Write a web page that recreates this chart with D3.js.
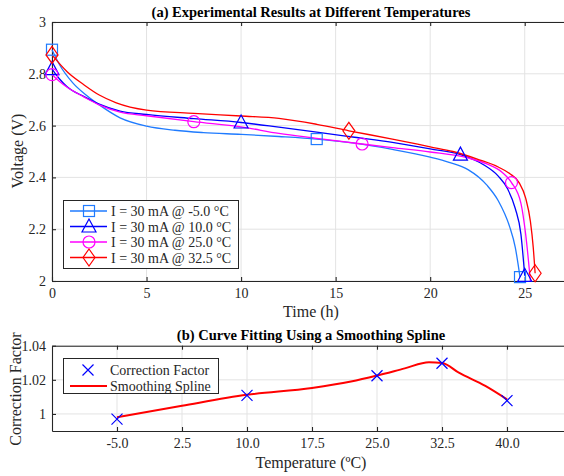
<!DOCTYPE html>
<html>
<head>
<meta charset="utf-8">
<script src="https://cdn.jsdelivr.net/npm/d3@7"></script>
<style>
  body { margin: 0; background: #fff; }
  svg { display: block; overflow: hidden; }
  text { font-family: "Liberation Serif", "Times New Roman", serif; fill: #262626; }
</style>
</head>
<body>
<script>
// ---- data ----
// (a) discharge curves, time in h and voltage in V
const tM5 = [0, 0.4, 1.1, 1.8, 2.5, 3.6, 5, 6.5, 8, 10, 12, 14, 16, 18, 20, 21, 22, 23, 23.6, 24.2, 24.5, 24.75];
const vM5 = [2.893, 2.835, 2.765, 2.718, 2.68, 2.63, 2.598, 2.582, 2.573, 2.566, 2.558, 2.548, 2.532, 2.508, 2.478, 2.458, 2.43, 2.37, 2.31, 2.21, 2.13, 2.015];
const mkM5 = [0, 11, 21];

const t10 = [0, 0.4, 0.8, 1.7, 2.5, 3.6, 5, 7.5, 10, 12, 14, 16, 18, 20, 21.6, 22.8, 23.6, 24.1, 24.5, 24.8, 25.0];
const v10 = [2.818, 2.78, 2.75, 2.712, 2.683, 2.656, 2.643, 2.627, 2.612, 2.594, 2.575, 2.555, 2.535, 2.51, 2.488, 2.45, 2.405, 2.355, 2.28, 2.18, 2.02];
const mk10 = [0, 8, 14, 20];

const t25 = [0, 0.4, 0.8, 1.7, 2.5, 3.6, 5, 7.5, 10, 12, 14, 16.4, 18, 20, 22, 23, 23.8, 24.3, 24.8, 25.05, 25.3];
const v25 = [2.797, 2.77, 2.748, 2.71, 2.68, 2.652, 2.638, 2.615, 2.595, 2.57, 2.551, 2.529, 2.515, 2.498, 2.475, 2.452, 2.42, 2.38, 2.3, 2.18, 2.0];
const mk25 = [0, 7, 11, 17];

const t325 = [0, 0.8, 1.7, 2.5, 3.4, 5, 7.5, 10, 12, 14, 15.7, 18, 20, 21.2, 22.6, 23.6, 24.2, 24.7, 25.05, 25.3, 25.45, 25.55];
const v325 = [2.873, 2.808, 2.757, 2.718, 2.688, 2.66, 2.647, 2.637, 2.628, 2.605, 2.58, 2.548, 2.518, 2.5, 2.468, 2.44, 2.415, 2.38, 2.32, 2.23, 2.13, 2.03];
const mk325 = [0, 10, 21];

const seriesNames = ['I = 30 mA @ -5.0 °C', 'I = 30 mA @ 10.0 °C', 'I = 30 mA @ 25.0 °C', 'I = 30 mA @ 32.5 °C'];
const timeTicks = [0, 5, 10, 15, 20, 25];
const voltTicks = [2, 2.2, 2.4, 2.6, 2.8, 3];

// (b) correction factor vs temperature
const tempPoints = [-5, 10, 25, 32.5, 40];
const corrPoints = [0.997, 1.0109, 1.0224, 1.0297, 1.0078];
const splineTemp = [-5, 2.5, 10, 17.5, 22, 25, 28.2, 31, 32.5, 34.5, 37.5, 40];
const splineCorr = [0.998, 1.0048, 1.0112, 1.0152, 1.019, 1.0225, 1.0267, 1.0303, 1.0299, 1.024, 1.0164, 1.0085];
const tempTicks = [-5, 2.5, 10, 17.5, 25, 32.5, 40];
const corrTicks = [1, 1.02, 1.04];

// ---- styles ----
const colors = ['#1f7bff', '#0000ff', '#ff00ff', '#ff0000'];
const shapes = ['square', 'triangle', 'circle', 'diamond'];
const axisColor = '#262626';
const gridColor = '#e3e3e3';
const serif = '"Liberation Serif", "Times New Roman", serif';

const w = 564, h = 476;

let svg = d3.select('body').append('svg')
  .attr('width', w)
  .attr('height', h)
  .attr('font-family', serif);

// marker drawing helper
const drawMarker = (g, shape, x, y, color) => {
  let m;
  if (shape === 'square') {
    m = g.append('rect').attr('x', x - 5.5).attr('y', y - 5.5).attr('width', 11).attr('height', 11);
  } else if (shape === 'circle') {
    m = g.append('circle').attr('cx', x).attr('cy', y).attr('r', 6);
  } else if (shape === 'triangle') {
    m = g.append('path').attr('d', `M${x},${y - 7.5}L${x + 7},${y + 5.5}L${x - 7},${y + 5.5}Z`);
  } else if (shape === 'diamond') {
    m = g.append('path').attr('d', `M${x},${y - 8.5}L${x + 6},${y}L${x},${y + 8.5}L${x - 6},${y}Z`);
  } else if (shape === 'x') {
    m = g.append('path').attr('d', `M${x - 5.5},${y - 5.5}L${x + 5.5},${y + 5.5}M${x - 5.5},${y + 5.5}L${x + 5.5},${y - 5.5}`);
  }
  m.attr('fill', 'none').attr('stroke', color).attr('stroke-width', 1.2);
};

// grid + box axes used by both panels
const drawFrame = (g, x, y, xTicks, yTicks, xFmt, yFmt) => {
  let [x0, x1] = x.range();
  let [y0, y1] = y.range();

  g.append('g').selectAll('line').data(xTicks).enter().append('line')
    .attr('x1', d => x(d)).attr('x2', d => x(d))
    .attr('y1', y0).attr('y2', y1)
    .attr('stroke', gridColor).attr('stroke-width', 1);
  g.append('g').selectAll('line').data(yTicks).enter().append('line')
    .attr('x1', x0).attr('x2', x1)
    .attr('y1', d => y(d)).attr('y2', d => y(d))
    .attr('stroke', gridColor).attr('stroke-width', 1);

  let bottom = g.append('g')
    .attr('transform', `translate(0,${y0})`)
    .call(d3.axisBottom(x).tickValues(xTicks).tickFormat(xFmt).tickSizeInner(-4).tickSizeOuter(0).tickPadding(7));
  let top = g.append('g')
    .attr('transform', `translate(0,${y1})`)
    .call(d3.axisTop(x).tickValues(xTicks).tickFormat('').tickSizeInner(-4).tickSizeOuter(0));
  let left = g.append('g')
    .attr('transform', `translate(${x0},0)`)
    .call(d3.axisLeft(y).tickValues(yTicks).tickFormat(yFmt).tickSizeInner(-4).tickSizeOuter(0).tickPadding(6));

  [bottom, top, left].forEach(a => {
    a.attr('font-family', serif).attr('font-size', 14);
    a.selectAll('path, line').attr('stroke', axisColor).attr('stroke-width', 1.1);
    a.selectAll('text').attr('fill', axisColor);
  });
};

// ================= panel (a) =================
let xA = d3.scaleLinear().domain([0, 27.5]).range([52, 572]);
let yA = d3.scaleLinear().domain([2, 3]).range([281, 22]);

let gA = svg.append('g');
drawFrame(gA, xA, yA, timeTicks, voltTicks, d => d, d => d);

let series = [
  { t: tM5, v: vM5, mk: mkM5 },
  { t: t10, v: v10, mk: mk10 },
  { t: t25, v: v25, mk: mk25 },
  { t: t325, v: v325, mk: mk325 }
];

let lineA = d3.line()
  .x(d => xA(d[0]))
  .y(d => yA(d[1]))
  .curve(d3.curveMonotoneX);

series.forEach((s, i) => {
  let pts = s.t.map((t, k) => [t, s.v[k]]);
  gA.append('path')
    .attr('d', lineA(pts))
    .attr('fill', 'none')
    .attr('stroke', colors[i])
    .attr('stroke-width', 1.3);
});
series.forEach((s, i) => {
  s.mk.forEach(k => drawMarker(gA, shapes[i], xA(s.t[k]), yA(s.v[k]), colors[i]));
});

// legend (a)
let legA = gA.append('g');
legA.append('rect')
  .attr('x', 63.5).attr('y', 200.5).attr('width', 175).attr('height', 68)
  .attr('fill', '#fff').attr('stroke', axisColor).attr('stroke-width', 1);
seriesNames.forEach((name, i) => {
  let ly = 211 + i * 15.5;
  legA.append('line')
    .attr('x1', 70).attr('x2', 107).attr('y1', ly).attr('y2', ly)
    .attr('stroke', colors[i]).attr('stroke-width', 1.3);
  drawMarker(legA, shapes[i], 89, ly, colors[i]);
  legA.append('text')
    .attr('x', 111).attr('y', ly + 5)
    .attr('font-size', 14)
    .text(name);
});

// titles and labels (a)
svg.append('text')
  .attr('x', 311).attr('y', 17)
  .attr('text-anchor', 'middle')
  .attr('font-size', 14.5).attr('font-weight', 'bold')
  .style('fill', '#000')
  .text('(a) Experimental Results at Different Temperatures');
svg.append('text')
  .attr('x', 311).attr('y', 317)
  .attr('text-anchor', 'middle')
  .attr('font-size', 16)
  .text('Time (h)');
svg.append('text')
  .attr('transform', 'translate(23,151) rotate(-90)')
  .attr('text-anchor', 'middle')
  .attr('font-size', 16)
  .text('Voltage (V)');

// ================= panel (b) =================
let xB = d3.scaleLinear().domain([-12.5, 47.5]).range([52, 572]);
let yB = d3.scaleLinear().domain([0.99, 1.04]).range([431, 345.7]);

let gB = svg.append('g');
drawFrame(gB, xB, yB, tempTicks, corrTicks, d => d.toFixed(1), d => d);

let lineB = d3.line()
  .x(d => xB(d[0]))
  .y(d => yB(d[1]))
  .curve(d3.curveMonotoneX);

gB.append('path')
  .attr('d', lineB(splineTemp.map((t, k) => [t, splineCorr[k]])))
  .attr('fill', 'none')
  .attr('stroke', '#ff0000')
  .attr('stroke-width', 2);

tempPoints.forEach((t, k) => drawMarker(gB, 'x', xB(t), yB(corrPoints[k]), '#0000ff'));

// legend (b)
let legB = gB.append('g');
legB.append('rect')
  .attr('x', 63.5).attr('y', 358.5).attr('width', 155).attr('height', 35)
  .attr('fill', '#fff').attr('stroke', axisColor).attr('stroke-width', 1);
drawMarker(legB, 'x', 88, 370, '#0000ff');
legB.append('text').attr('x', 110).attr('y', 375).attr('font-size', 14).text('Correction Factor');
legB.append('line')
  .attr('x1', 70).attr('x2', 107).attr('y1', 386).attr('y2', 386)
  .attr('stroke', '#ff0000').attr('stroke-width', 2);
legB.append('text').attr('x', 110).attr('y', 391).attr('font-size', 14).text('Smoothing Spline');

// titles and labels (b)
svg.append('text')
  .attr('x', 311).attr('y', 340)
  .attr('text-anchor', 'middle')
  .attr('font-size', 14.5).attr('font-weight', 'bold')
  .style('fill', '#000')
  .text('(b) Curve Fitting Using a Smoothing Spline');
svg.append('text')
  .attr('x', 311).attr('y', 468)
  .attr('text-anchor', 'middle')
  .attr('font-size', 16)
  .text('Temperature (ºC)');
svg.append('text')
  .attr('transform', 'translate(21,389) rotate(-90)')
  .attr('text-anchor', 'middle')
  .attr('font-size', 16)
  .text('Correction Factor');
</script>
</body>
</html>
